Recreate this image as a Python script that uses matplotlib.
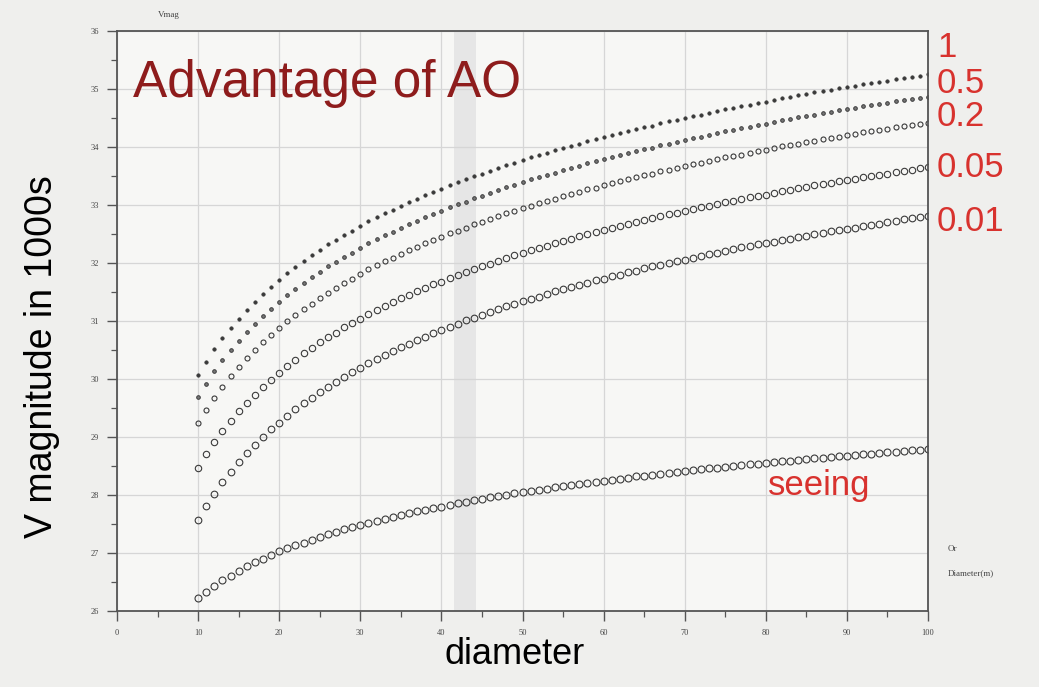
import numpy as np
import matplotlib
matplotlib.use("Agg")
import matplotlib.pyplot as plt

# telescope diameter (m), one point per metre
diameter = np.arange(10, 101)

# limiting V magnitude
strehl_1 = [30.07, 30.30, 30.51, 30.70, 30.88, 31.04, 31.19, 31.33, 31.47, 31.59,
            31.71, 31.83, 31.93, 32.04, 32.13, 32.23, 32.32, 32.40, 32.49, 32.56,
            32.64, 32.72, 32.79, 32.86, 32.92, 32.99, 33.05, 33.11, 33.17, 33.23,
            33.28, 33.34, 33.39, 33.44, 33.50, 33.54, 33.59, 33.64, 33.69, 33.73,
            33.78, 33.82, 33.86, 33.90, 33.94, 33.98, 34.02, 34.06, 34.10, 34.13,
            34.17, 34.21, 34.24, 34.27, 34.31, 34.34, 34.37, 34.41, 34.44, 34.47,
            34.50, 34.53, 34.56, 34.59, 34.62, 34.65, 34.67, 34.70, 34.73, 34.76,
            34.78, 34.81, 34.84, 34.86, 34.89, 34.91, 34.94, 34.96, 34.98, 35.01,
            35.03, 35.05, 35.08, 35.10, 35.12, 35.14, 35.17, 35.19, 35.21, 35.23,
            35.25]
strehl_05 = [29.69, 29.92, 30.13, 30.32, 30.50, 30.66, 30.81, 30.95, 31.09, 31.21,
             31.33, 31.45, 31.55, 31.66, 31.75, 31.85, 31.94, 32.02, 32.11, 32.18,
             32.26, 32.34, 32.41, 32.48, 32.54, 32.61, 32.67, 32.73, 32.79, 32.85,
             32.90, 32.96, 33.01, 33.06, 33.12, 33.16, 33.21, 33.26, 33.31, 33.35,
             33.40, 33.44, 33.48, 33.52, 33.56, 33.60, 33.64, 33.68, 33.72, 33.75,
             33.79, 33.83, 33.86, 33.89, 33.93, 33.96, 33.99, 34.03, 34.06, 34.09,
             34.12, 34.15, 34.18, 34.21, 34.24, 34.27, 34.29, 34.32, 34.35, 34.38,
             34.40, 34.43, 34.46, 34.48, 34.51, 34.53, 34.56, 34.58, 34.60, 34.63,
             34.65, 34.67, 34.70, 34.72, 34.74, 34.76, 34.79, 34.81, 34.83, 34.85,
             34.87]
strehl_02 = [29.24, 29.47, 29.68, 29.87, 30.05, 30.21, 30.36, 30.50, 30.64, 30.76,
             30.88, 31.00, 31.10, 31.21, 31.30, 31.40, 31.49, 31.57, 31.66, 31.73,
             31.81, 31.89, 31.96, 32.03, 32.09, 32.16, 32.22, 32.28, 32.34, 32.40,
             32.45, 32.51, 32.56, 32.61, 32.67, 32.71, 32.76, 32.81, 32.86, 32.90,
             32.95, 32.99, 33.03, 33.07, 33.11, 33.15, 33.19, 33.23, 33.27, 33.30,
             33.34, 33.38, 33.41, 33.44, 33.48, 33.51, 33.54, 33.58, 33.61, 33.64,
             33.67, 33.70, 33.73, 33.76, 33.79, 33.82, 33.84, 33.87, 33.90, 33.93,
             33.95, 33.98, 34.01, 34.03, 34.06, 34.08, 34.11, 34.13, 34.15, 34.18,
             34.20, 34.22, 34.25, 34.27, 34.29, 34.31, 34.34, 34.36, 34.38, 34.40,
             34.42]
strehl_005 = [28.47, 28.70, 28.91, 29.10, 29.28, 29.44, 29.59, 29.73, 29.87, 29.99,
              30.11, 30.23, 30.33, 30.44, 30.53, 30.63, 30.72, 30.80, 30.89, 30.96,
              31.04, 31.12, 31.19, 31.26, 31.32, 31.39, 31.45, 31.51, 31.57, 31.63,
              31.68, 31.74, 31.79, 31.84, 31.90, 31.94, 31.99, 32.04, 32.09, 32.13,
              32.18, 32.22, 32.26, 32.30, 32.34, 32.38, 32.42, 32.46, 32.50, 32.53,
              32.57, 32.61, 32.64, 32.67, 32.71, 32.74, 32.77, 32.81, 32.84, 32.87,
              32.90, 32.93, 32.96, 32.99, 33.02, 33.05, 33.07, 33.10, 33.13, 33.16,
              33.18, 33.21, 33.24, 33.26, 33.29, 33.31, 33.34, 33.36, 33.38, 33.41,
              33.43, 33.45, 33.48, 33.50, 33.52, 33.54, 33.57, 33.59, 33.61, 33.63,
              33.65]
strehl_001 = [27.57, 27.81, 28.02, 28.22, 28.40, 28.57, 28.72, 28.87, 29.00, 29.13,
              29.25, 29.37, 29.48, 29.58, 29.68, 29.77, 29.87, 29.95, 30.04, 30.12,
              30.19, 30.27, 30.34, 30.41, 30.48, 30.55, 30.61, 30.67, 30.73, 30.79,
              30.84, 30.90, 30.95, 31.01, 31.06, 31.11, 31.15, 31.20, 31.25, 31.29,
              31.34, 31.38, 31.42, 31.47, 31.51, 31.55, 31.58, 31.62, 31.66, 31.70,
              31.73, 31.77, 31.80, 31.84, 31.87, 31.91, 31.94, 31.97, 32.00, 32.03,
              32.06, 32.09, 32.12, 32.15, 32.18, 32.21, 32.24, 32.27, 32.29, 32.32,
              32.35, 32.37, 32.40, 32.42, 32.45, 32.47, 32.50, 32.52, 32.55, 32.57,
              32.59, 32.61, 32.64, 32.66, 32.68, 32.70, 32.73, 32.75, 32.77, 32.79,
              32.81]
seeing = [26.22, 26.33, 26.43, 26.53, 26.61, 26.69, 26.77, 26.84, 26.90, 26.97,
          27.03, 27.08, 27.13, 27.18, 27.23, 27.28, 27.32, 27.37, 27.41, 27.45,
          27.48, 27.52, 27.56, 27.59, 27.62, 27.66, 27.69, 27.72, 27.75, 27.78,
          27.80, 27.83, 27.86, 27.88, 27.91, 27.93, 27.96, 27.98, 28.00, 28.03,
          28.05, 28.07, 28.09, 28.11, 28.13, 28.15, 28.17, 28.19, 28.21, 28.23,
          28.25, 28.26, 28.28, 28.30, 28.32, 28.33, 28.35, 28.36, 28.38, 28.40,
          28.41, 28.43, 28.44, 28.46, 28.47, 28.49, 28.50, 28.51, 28.53, 28.54,
          28.55, 28.57, 28.58, 28.59, 28.61, 28.62, 28.63, 28.64, 28.66, 28.67,
          28.68, 28.69, 28.70, 28.71, 28.72, 28.74, 28.75, 28.76, 28.77, 28.78,
          28.79]

strehl_labels = ["1", "0.5", "0.2", "0.05", "0.01"]
label_y = [35.72, 35.10, 34.52, 33.64, 32.72]

fig = plt.figure(figsize=(10.39, 6.87), dpi=100, facecolor="#efefed")
ax = fig.add_axes([0.1126, 0.1106, 0.7806, 0.8443])
ax.set_facecolor("#f7f7f5")

ax.set_xlim(0, 100)
ax.set_ylim(26, 36)
ax.set_xticks(np.arange(0, 101, 10))
ax.set_xticks(np.arange(5, 100, 10), minor=True)
ax.set_yticks(np.arange(26, 37, 1))
ax.set_yticks(np.arange(26.5, 36, 1), minor=True)
ax.grid(True, which="major", color="#d6d6d6", lw=0.9)
ax.set_axisbelow(True)
ax.axvspan(41.5, 44.3, color="#dcdcdc", alpha=0.6, lw=0, zorder=0.5)

for side in ax.spines.values():
    side.set_color("#555555")
    side.set_linewidth(1.3)
ax.tick_params(which="major", direction="out", length=7, width=1.0, color="#555555",
               labelsize=6, labelcolor="#444444", pad=6)
ax.tick_params(which="minor", direction="out", length=4, width=0.9, color="#555555")
for lab in ax.get_xticklabels() + ax.get_yticklabels():
    lab.set_fontfamily("Liberation Serif")

dot = dict(ls="none", marker="o", mec="#3a3a3a")
ax.plot(diameter, strehl_1, ms=2.4, mfc="#3a3a3a", mew=0.6, **dot)
ax.plot(diameter, strehl_05, ms=2.6, mfc="#777777", mew=0.7, **dot)
ax.plot(diameter, strehl_02, ms=3.6, mfc="none", mew=0.8, **dot)
ax.plot(diameter, strehl_005, ms=4.6, mfc="none", mew=0.8, **dot)
ax.plot(diameter, strehl_001, ms=4.8, mfc="none", mew=0.8, **dot)
ax.plot(diameter, seeing, ms=5.0, mfc="none", mew=0.8, **dot)

red = "#d8322e"
for lab, yv in zip(strehl_labels, label_y):
    ax.text(101.1, yv, lab, color=red, fontsize=25, family="Liberation Sans",
            ha="left", va="center", clip_on=False)
ax.text(80.3, 28.17, "seeing", color=red, fontsize=25, family="Liberation Sans",
        ha="left", va="center")

ax.text(2.0, 34.86, "Advantage of AO", color="#8e1c1c", fontsize=37,
        family="Liberation Sans", ha="left", va="baseline")

fig.text(42 / 1039, 1 - 357 / 687, "V magnitude in 1000s", rotation=90,
         fontsize=27, family="Liberation Sans", ha="center", va="center")
fig.text(515 / 1039, 1 - 655 / 687, "diameter", fontsize=26,
         family="Liberation Sans", ha="center", va="center")
fig.text(158 / 1039, 1 - 15 / 687, "Vmag", fontsize=6.5,
         family="Liberation Serif", color="#444444", ha="left", va="center")
fig.text(948 / 1039, 1 - 549 / 687, "Or", fontsize=6.5,
         family="Liberation Serif", color="#444444", ha="left", va="center")
fig.text(948 / 1039, 1 - 573 / 687, "Diameter(m)", fontsize=6.5,
         family="Liberation Serif", color="#444444", ha="left", va="center")

fig.savefig("out.png", dpi=100, facecolor=fig.get_facecolor())
